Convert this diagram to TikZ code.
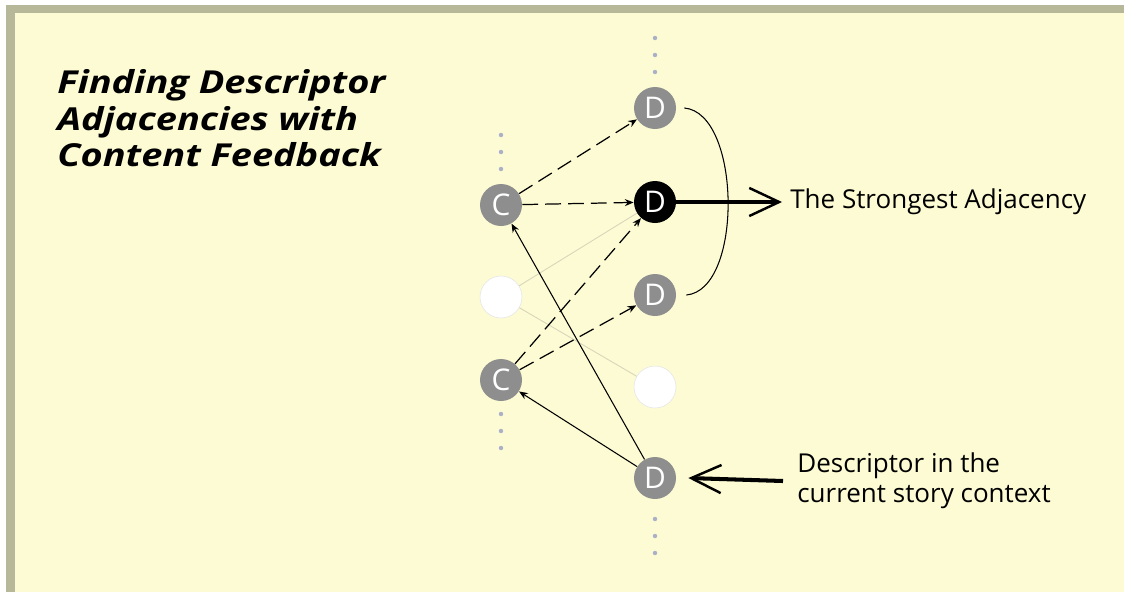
\documentclass[tikz,border=0pt]{standalone}
\usepackage{fontspec}
\setmainfont{Open Sans}
\usetikzlibrary{arrows.meta}
\definecolor{paper}{HTML}{FDFBD4}
\definecolor{rim}{HTML}{B7B799}
\definecolor{disc}{HTML}{8E8E8E}
\definecolor{dotblue}{HTML}{AAB0C6}
\definecolor{faint}{HTML}{D8D6BA}
\newcommand{\wide}[1]{\scalebox{1.2}[1]{#1}}

\begin{document}
\begin{tikzpicture}[x=0.02cm, y=-0.02cm,
  cnode/.style={circle, fill=disc, text=white, minimum size=42*0.02cm, inner sep=0pt, font=\fontsize{17}{17}\selectfont},
  bnode/.style={cnode, fill=black},
  wnode/.style={circle, fill=white, draw=white!90!black, line width=0.3pt, minimum size=42*0.02cm, inner sep=0pt},
  dasharrow/.style={-{Stealth[length=5pt,width=4pt]}, line width=0.7pt, dash pattern=on 9pt off 4pt},
  solidarrow/.style={-{Stealth[length=5pt,width=4pt]}, line width=0.6pt},
  faintline/.style={faint, line width=0.5pt},
  bigarrow/.style={-{Straight Barb[length=17pt,width=16pt,line width=1.4pt]}, line width=2.3pt},
  label/.style={anchor=west, inner sep=0pt, align=left, font=\fontsize{14.8}{17}\selectfont}]
% \draw [help lines,color=green] (0,0) grid[step=50] (1124,592);
%%%%%%%%% frame
\useasboundingbox (0,0) rectangle (1124,592);
\fill [white] (0,0) rectangle (1124,592);
\fill [rim] (6,5) rectangle (1124,592);
\fill [paper] (15,13) rectangle (1124,592);
%%%%%%%%% title
\node [anchor=north west, inner sep=0pt, font=\fontsize{18}{21}\bfseries\itshape\selectfont] (title) at (57,67)
  {\wide{\begin{tabular}{@{}l@{}}Finding Descriptor\\Adjacencies with\\Content Feedback\end{tabular}}};
%%%%%%%%% the two columns
\coordinate (cdots) at (501,135);
\coordinate (cdotsb) at (501,414);
\coordinate (ddots) at (655,38);
\coordinate (ddotsb) at (655,519);
\foreach \p in {cdots,cdotsb,ddots,ddotsb}
  \foreach \dy in {0,17,34} \fill [dotblue] ([yshift=-\dy*0.02cm]\p) circle (2.2);
\node [cnode] (c1) at (501,205) {C};
\node [wnode] (w1) at (501,297) {};
\node [cnode] (c2) at (501,380) {C};
\node [cnode] (dtop) at (655,108) {D};
\node [bnode] (dbest) at (655,202) {D};
\node [cnode] (dmid) at (655,295) {D};
\node [wnode] (w2) at (655,387) {};
\node [cnode] (dcur) at (655,478) {D};
%%%%%%%%% links
\draw [faintline] (w1) -- (dbest);
\draw [faintline] (w1) -- (w2);
\draw [dasharrow] (c1) -- (dtop);
\draw [dasharrow] (c1) -- (dbest);
\draw [dasharrow] (c2) -- (dbest);
\draw [dasharrow] (c2) -- (dmid);
\draw [solidarrow] (dcur) -- (c1);
\draw [solidarrow] (dcur) -- (c2);
\draw [line width=0.6pt] ([xshift=8*0.02cm]dtop.east) .. controls +(57,5) and +(57,-5) .. ([xshift=10*0.02cm]dmid.east);
%%%%%%%%% labels
\node [label] (strong) at (790,202) {The Strongest Adjacency};
\node [label] (ctx) at (797,481) {Descriptor in the\\current story context};
\draw [bigarrow] (dbest) -- ([xshift=-8*0.02cm]strong.west);
\draw [bigarrow] ([xshift=-14*0.02cm]ctx.west) -- ([xshift=12*0.02cm]dcur.east);
\end{tikzpicture}
\end{document}
